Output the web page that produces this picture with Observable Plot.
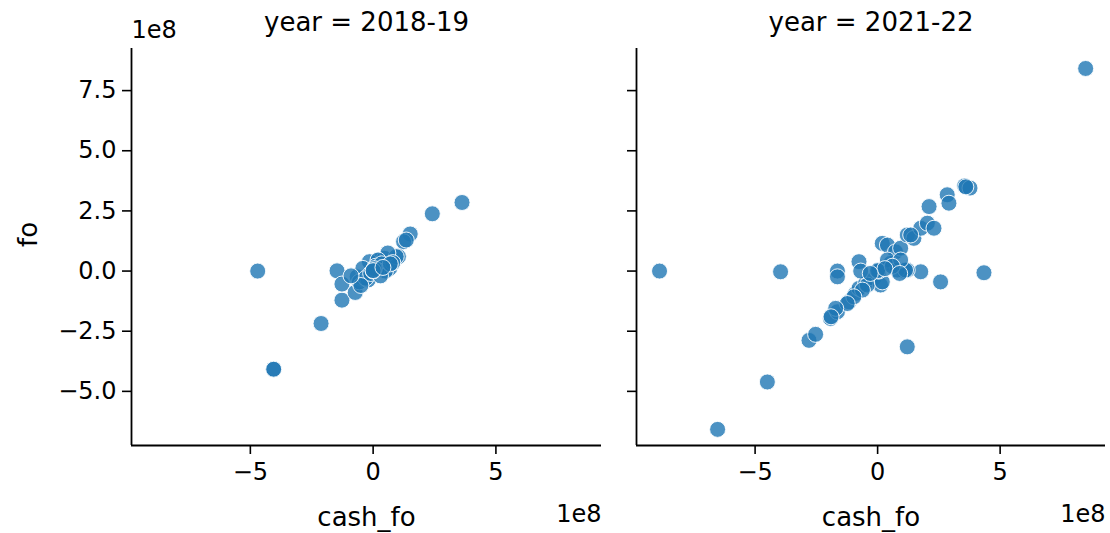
<!DOCTYPE html>
<html>
<head>
<meta charset="utf-8">
<script src="https://cdn.jsdelivr.net/npm/d3@7"></script>
<script src="https://cdn.jsdelivr.net/npm/@observablehq/plot@0.6"></script>
<style>
  html, body { margin: 0; padding: 0; background: #fff; }
  #wrap { display: flex; width: 1110px; height: 533px; }
  svg { font-family: "DejaVu Sans", sans-serif; }
</style>
</head>
<body>
<div id="wrap"></div>
<script>
// values in units of 1e8
const years = ["2018-19", "2021-22"];

const cashFo1819 = [-4.7, 3.62, 2.41, 1.51, 1.24, 1.03, -2.12, -1.27, -1.47, -1.27, -0.73, -0.65, -4.05, -4.05,
  0.26, 0.46, 0.67, 0.94, 1.35, -0.15, -0.42, -0.56, 0.6, 0.2, -0.2, 0.1, 0.35, 0.5, -0.3, -0.1, 0.15, 0.8,
  0.3, -0.5, 0.05, 0.0, 0.0, -0.9, 0.7, 0.4];
const fo1819 = [0.0, 2.85, 2.38, 1.54, 1.22, 0.6, -2.18, -1.21, 0.01, -0.54, -0.89, -0.24, -4.08, -4.08,
  0.46, 0.53, 0.11, 0.6, 1.29, 0.39, 0.11, -0.45, 0.75, 0.46, -0.37, 0.2, 0.3, 0.0, -0.3, -0.1, 0.05, 0.35,
  -0.2, -0.6, 0.1, 0.0, 0.02, -0.2, 0.3, 0.15];

const cashFo2122 = [-8.9, -3.96, -6.53, -4.5, 8.49, -1.64, -1.64, -2.8, -2.53, -1.92, -1.64, -1.17, -0.9, -0.76,
  -0.49, -0.15, 0.12, 0.0, -0.76, 0.19, 0.4, 0.73, 0.94, 1.21, 1.48, 1.76, 2.03, 2.3, 2.1, 2.84, 2.91, 3.55,
  3.77, 1.76, 2.57, 4.34, 1.21, 1.07, 0.53, 1.21, 0.4, -0.42, -0.62, -0.97, -1.24, -1.71, 0.19, 0.8, 1.14,
  0.94, -0.69, 0.05, 0.0, 3.6, 0.6, 0.3, -0.3, 1.35, -1.9, 0.9];
const fo2122 = [0.0, -0.03, -6.58, -4.61, 8.42, 0.0, -0.24, -2.88, -2.63, -1.97, -1.69, -1.28, -0.93, -0.72,
  -0.51, -0.3, -0.58, 0.0, 0.39, 1.15, 1.08, 0.8, 0.95, 1.5, 1.36, 1.78, 1.99, 1.78, 2.68, 3.17, 2.82, 3.54,
  3.45, -0.03, -0.45, -0.07, -3.15, 0.0, 0.32, 0.04, 0.46, -0.58, -0.79, -1.07, -1.35, -1.55, -0.45, 0.04, 0.04,
  0.46, 0.0, 0.0, 0.02, 3.5, 0.2, 0.1, -0.1, 1.5, -1.9, -0.1];

const xTicks = [-5, 0, 5];
const yTicks = [-5, -2.5, 0, 2.5, 5, 7.5];
const xDomain = [-9.84, 9.3];
const yDomain = [-7.25, 9.25];

const panels = [
  {year: years[0], xs: cashFo1819, ys: fo1819},
  {year: years[1], xs: cashFo2122, ys: fo2122}
];

const fmtX = d3.format("d");
const fmtY = d3.format(".1f");
const TICK = 24, LABEL = 26;

panels.forEach((p, i) => {
  const first = i === 0;
  const data = p.xs.map((x, j) => ({cash_fo: x, fo: p.ys[j]}));
  const ml = first ? 131 : 18;
  const mr = first ? 17 : 5;
  const width = first ? 618 : 492;
  const marks = [
    Plot.dot(data, {x: "cash_fo", y: "fo", r: 8, fill: "#1f77b4", fillOpacity: 0.8,
      stroke: "white", strokeWidth: 0.9}),
    Plot.axisX({ticks: xTicks, tickFormat: fmtX, tickSize: 9, tickPadding: 8, fontSize: TICK,
      label: null, strokeWidth: 1.6}),
    Plot.axisY({ticks: yTicks, tickFormat: first ? fmtY : () => "", tickSize: 9, tickPadding: 6,
      fontSize: TICK, label: null, strokeWidth: 1.6}),
    Plot.ruleX([xDomain[0]], {stroke: "black", strokeWidth: 1.8}),
    Plot.ruleY([yDomain[0]], {stroke: "black", strokeWidth: 1.8}),
    Plot.text(["year = " + p.year], {frameAnchor: "top", dy: -36, fontSize: LABEL, fill: "black"}),
    Plot.text(["cash_fo"], {frameAnchor: "bottom", dy: 80, fontSize: LABEL, fill: "black"}),
    Plot.text(["1e8"], {frameAnchor: "bottom-right", textAnchor: "end", dy: 76, fontSize: TICK, fill: "black"})
  ];
  if (first) {
    marks.push(Plot.text(["1e8"], {frameAnchor: "top-left", textAnchor: "start", dy: -28, fontSize: TICK, fill: "black"}));
    marks.push(Plot.text(["fo"], {frameAnchor: "left", rotate: -90, dx: -103, fontSize: LABEL, fill: "black"}));
  }
  const chart = Plot.plot({
    width, height: 533,
    marginTop: 48, marginBottom: 88, marginLeft: ml, marginRight: mr,
    style: {fontFamily: "DejaVu Sans, sans-serif", overflow: "visible"},
    x: {domain: xDomain},
    y: {domain: yDomain},
    marks
  });
  document.getElementById("wrap").appendChild(chart);
});
</script>
</body>
</html>
